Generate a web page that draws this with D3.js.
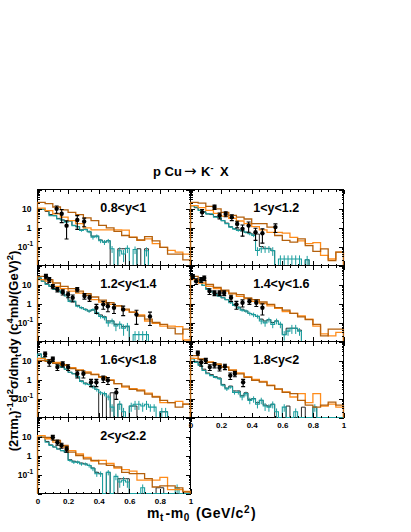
<!DOCTYPE html>
<html>
<head>
<meta charset="utf-8">
<script src="https://cdn.jsdelivr.net/npm/d3@7"></script>
<style>
body { margin: 0; background: #ffffff; }
svg text { font-family: "Liberation Sans", Arial, Helvetica, sans-serif; font-weight: bold; fill: #000; }
</style>
</head>
<body>
<svg id="chart" width="411" height="532"></svg>
<script>
// Rapidity bins, one panel each
var rapidityLabels = ["0.8<y<1", "1<y<1.2", "1.2<y<1.4", "1.4<y<1.6", "1.6<y<1.8", "1.8<y<2", "2<y<2.2"];
var xTickValues = [0, 0.2, 0.4, 0.6, 0.8, 1];
var xTickLabels = ["0", "0.2", "0.4", "0.6", "0.8", "1"];

// Model curves, 20 bins of 0.05 GeV/c^2 (dark orange / light orange)
var darkOr1 = [21, 18, 12, 8.5, 6.3, 4.8, 3.2, 2.3, 1.3, 0.95, 0.63, 0.38, 0.3, 0.22, 0.33, 0.2, 0.09, 0.04, 0.04, 0.02];
var ltOr1 = [10.5, 7.8, 5.3, 3.5, 2.3, 1.6, 0.95, 0.75, 0.75, 0.75, 0.75, 0.72, 0.31, 0.21, 0.25, 0.14, 0.09, 0.063, 0.05, 0.04];
var darkOr2 = [21, 19, 13, 9.5, 6.3, 4.3, 3.5, 2.8, 1.6, 1.6, 1.05, 0.38, 0.21, 0.17, 0.25, 0.11, 0.056, 0.075, 0.018, 0.05];
var ltOr2 = [14, 11, 8, 5.5, 4, 3, 2.2, 1.6, 1.1, 0.75, 0.56, 0.56, 0.5, 0.3, 0.2, 0.14, 0.16, 0.034, 0.022, 0.05];
var darkOr3 = [27, 18, 12, 8, 6, 4.5, 3.3, 2.2, 1.5, 1.1, 0.75, 0.5, 0.35, 0.22, 0.15, 0.1, 0.08, 0.05, 0.025, 0.045];
var ltOr3 = [18, 15, 8, 6, 4.5, 3.5, 2.7, 1.6, 1.2, 0.9, 0.75, 0.45, 0.35, 0.25, 0.12, 0.09, 0.065, 0.065, 0.06, 0.012];
var darkOr4 = [27, 17, 10, 7, 5, 3.5, 2.9, 2, 1.6, 1.2, 0.9, 0.6, 0.45, 0.3, 0.2, 0.14, 0.08, 0.02, 0.045, 0.045];
var ltOr4 = [18, 12, 8, 6, 4.5, 3.2, 2.4, 1.8, 1.3, 1.0, 0.75, 0.55, 0.38, 0.3, 0.22, 0.15, 0.065, 0.025, 0.02, 0.03];
var darkOr5 = [10, 9, 7, 5.5, 3.8, 3, 2.2, 1.8, 1.4, 0.9, 0.6, 0.45, 0.3, 0.25, 0.17, 0.12, 0.08, 0.06, 0.035, 0.05];
var ltOr5 = [13, 11, 8, 6, 4.2, 3.2, 2.5, 1.9, 1.3, 0.95, 0.6, 0.4, 0.33, 0.28, 0.19, 0.13, 0.06, 0.06, 0.07, 0.05];
var darkOr6 = [18, 12, 8, 6.6, 4.5, 3, 2, 1.3, 0.9, 0.72, 0.48, 0.32, 0.21, 0.18, 0.08, 0.045, 0.035, 0.045, 0.065, 0.045];
var ltOr6 = [13, 11, 8.5, 6, 4.5, 3.2, 2.2, 1.4, 1.0, 0.8, 0.5, 0.3, 0.22, 0.12, 0.18, 0.06, 0.18, 0.04, 0.05, 0.035];
var darkOr7 = [9, 9, 6.2, 3.4, 1.5, 1, 0.67, 0.55, 0.36, 0.3, 0.25, 0.13, 0.11, 0.11, 0.06, 0.022, 0.025, 0.025, 0.02, 0.012];
var ltOr7 = [11, 7.6, 5, 2.8, 1.8, 1.2, 0.8, 0.5, 0.55, 0.38, 0.22, 0.18, 0.15, 0.05, 0.05, 0.05, 0.07, 0.016, 0.016, 0.013];

// Simulation, 40 bins of 0.025 GeV/c^2 (teal with errors, black)
var teal1 = [9.5, 9, 7.8, 4.2, 4.2, 2.8, 2.5, 1.9, 2.2, 1.26, 1.1, 0.7, 0.8, 0.6, 0.31, 0.35, 0.2, 0.17, 0.2, 0.076, 0, 0.06, 0.04, 0.08, 0, 0.07, 0, 0, 0.06, 0, 0, 0, 0, 0, 0, 0, 0, 0, 0, 0];
var tealErr1 = [0, 0, 0, 0, 0, 0, 0, 0, 0, 0, 0, 0.1, 0.1, 0.1, 0.08, 0.08, 0.05, 0.05, 0.05, 0.03, 0, 0.03, 0.025, 0.035, 0, 0.03, 0, 0, 0.03, 0, 0, 0, 0, 0, 0, 0, 0, 0, 0, 0];
var black1 = [10, 9, 7, 4.8, 4.2, 3, 2.5, 2.1, 2.2, 1.3, 1.1, 0.75, 0.8, 0.6, 0.35, 0.35, 0.22, 0.17, 0.2, 0, 0, 0.076, 0.076, 0, 0, 0, 0.076, 0, 0.076, 0, 0, 0, 0, 0, 0, 0, 0, 0, 0, 0];
var teal2 = [14, 12, 8, 6.3, 5.2, 5.2, 3.5, 3.5, 2.3, 1.6, 1.05, 0.85, 0.7, 0.7, 0.56, 0.47, 0.38, 0.062, 0.076, 0.076, 0.076, 0.062, 0, 0.022, 0.022, 0.022, 0.022, 0.022, 0.022, 0, 0.02, 0, 0, 0, 0, 0, 0, 0, 0, 0];
var tealErr2 = [0, 0, 0, 0, 0, 0, 0, 0, 0, 0, 0.1, 0.1, 0.1, 0.1, 0.08, 0.08, 0.07, 0.03, 0.03, 0.03, 0.03, 0.03, 0, 0.012, 0.012, 0.012, 0.012, 0.012, 0.012, 0, 0.012, 0, 0, 0, 0, 0, 0, 0, 0, 0];
var black2 = [14, 11, 8, 6.8, 5.2, 4.8, 3.8, 3.2, 2.3, 1.7, 1.1, 0.85, 0.75, 0.65, 0.56, 0.5, 0.45, 0.45, 0.1, 0.08, 0.08, 0.06, 0, 0, 0, 0, 0, 0, 0, 0, 0.02, 0, 0, 0, 0, 0, 0, 0, 0, 0];
var teal3 = [22, 15, 10, 8, 5.5, 4.5, 3.6, 2.5, 1.3, 1.3, 0.72, 0.6, 0.48, 0.4, 0.48, 0.32, 0.21, 0.18, 0.095, 0.12, 0.065, 0.08, 0.05, 0.065, 0, 0.023, 0.023, 0.023, 0.023, 0, 0, 0, 0, 0, 0, 0, 0, 0, 0, 0];
var tealErr3 = [0, 0, 0, 0, 0, 0, 0, 0, 0.15, 0.15, 0.1, 0.1, 0.08, 0.08, 0.08, 0.07, 0.05, 0.05, 0.035, 0.04, 0.03, 0.035, 0.03, 0.03, 0, 0.012, 0.012, 0.012, 0.012, 0, 0, 0, 0, 0, 0, 0, 0, 0, 0, 0];
var black3 = [22, 15, 11, 8, 6, 4.5, 3.6, 2.8, 1.5, 1.3, 0.8, 0.6, 0.5, 0.4, 0.45, 0.32, 0.25, 0.2, 0.12, 0.12, 0.08, 0.08, 0.06, 0.06, 0, 0, 0, 0, 0, 0, 0, 0, 0, 0, 0, 0, 0, 0, 0, 0];
var teal4 = [27, 18, 14, 9, 5.5, 4, 3, 2.4, 2, 1.6, 1.1, 0.8, 0.6, 0.45, 0.4, 0.3, 0.26, 0.21, 0.12, 0.095, 0.14, 0.08, 0.12, 0.08, 0.023, 0.035, 0.05, 0.05, 0.035, 0, 0, 0, 0, 0, 0, 0, 0, 0, 0, 0];
var tealErr4 = [0, 0, 0, 0, 0, 0, 0, 0, 0, 0, 0.15, 0.1, 0.1, 0.08, 0.08, 0.07, 0.07, 0.05, 0.04, 0.035, 0.04, 0.03, 0.04, 0.03, 0.012, 0.015, 0.025, 0.025, 0.015, 0, 0, 0, 0, 0, 0, 0, 0, 0, 0, 0];
var black4 = [27, 18, 14, 9, 6, 4.5, 3.3, 2.6, 2, 1.6, 1.2, 0.9, 0.65, 0.5, 0.4, 0.3, 0.26, 0.21, 0.15, 0.12, 0.14, 0.1, 0.12, 0.08, 0.023, 0.05, 0.05, 0.05, 0.04, 0, 0, 0, 0, 0, 0, 0, 0, 0, 0, 0];
var teal5 = [22, 14, 10, 8, 7, 5.5, 4.5, 3.5, 2.4, 2, 1.4, 0.8, 0.6, 0.55, 0.4, 0.3, 0.2, 0.18, 0.12, 0.035, 0, 0.05, 0.02, 0, 0.04, 0.05, 0.05, 0.04, 0.05, 0.035, 0.035, 0, 0.02, 0.02, 0, 0, 0, 0, 0, 0];
var tealErr5 = [0, 0, 0, 0, 0, 0, 0, 0, 0, 0, 0.15, 0.1, 0.1, 0.08, 0.08, 0.07, 0.05, 0.05, 0.04, 0.015, 0, 0.025, 0.012, 0, 0.02, 0.025, 0.025, 0.02, 0.025, 0.015, 0.015, 0, 0.012, 0.012, 0, 0, 0, 0, 0, 0];
var black5 = [22, 14, 10, 8, 7, 5.5, 4.5, 3.5, 2.4, 2, 1.4, 0.85, 0.65, 0.55, 0.45, 0.3, 0, 0.18, 0, 0.2, 0, 0.05, 0, 0, 0.04, 0.04, 0, 0, 0, 0, 0, 0, 0.02, 0.02, 0, 0, 0, 0, 0, 0];
var teal6 = [12, 8, 5.5, 3, 2, 1.6, 1.3, 1.1, 0.5, 0.32, 0.4, 0.21, 0.21, 0.12, 0.18, 0.08, 0.095, 0.05, 0.08, 0.04, 0.035, 0.05, 0.02, 0, 0.035, 0, 0, 0.02, 0, 0, 0, 0, 0.035, 0, 0, 0, 0, 0, 0, 0];
var tealErr6 = [0, 0, 0, 0, 0, 0, 0.15, 0.15, 0.08, 0.07, 0.07, 0.05, 0.05, 0.04, 0.05, 0.03, 0.035, 0.02, 0.03, 0.018, 0.015, 0.02, 0.01, 0, 0.015, 0, 0, 0.01, 0, 0, 0, 0, 0.015, 0, 0, 0, 0, 0, 0, 0];
var black6 = [13, 9, 6, 3.5, 2.2, 1.8, 1.4, 1.2, 0.55, 0.35, 0.45, 0.25, 0.25, 0.14, 0.2, 0.09, 0.1, 0.06, 0.08, 0.045, 0.04, 0.05, 0, 0, 0, 0.04, 0, 0, 0, 0.035, 0, 0, 0.035, 0, 0, 0, 0, 0, 0, 0];
var teal7 = [11, 9, 5, 3.4, 2.8, 2.2, 1.8, 1.5, 0.55, 0.45, 0.45, 0.36, 0.36, 0.3, 0.2, 0.11, 0.11, 0, 0.13, 0, 0.08, 0.04, 0.05, 0.04, 0, 0, 0, 0.02, 0, 0, 0, 0, 0, 0, 0, 0, 0.02, 0, 0, 0];
var tealErr7 = [0, 0, 0, 0, 0, 0, 0, 0, 0.09, 0.09, 0.09, 0.07, 0.07, 0.07, 0.05, 0.035, 0.035, 0, 0.04, 0, 0.03, 0.02, 0.025, 0.02, 0, 0, 0, 0.01, 0, 0, 0, 0, 0, 0, 0, 0, 0.01, 0, 0, 0];
var black7 = [11, 9, 5.5, 3.6, 2.8, 2.2, 1.8, 1.5, 0.6, 0.5, 0.45, 0.4, 0.36, 0.3, 0.22, 0.13, 0.11, 0, 0.13, 0, 0, 0.06, 0.06, 0.06, 0, 0, 0, 0, 0, 0, 0, 0.02, 0.02, 0, 0, 0, 0, 0, 0, 0];

// Measured points: mt-m0, cross section, error
var ptX1 = [0.125, 0.158, 0.19, 0.26, 0.305];
var ptY1 = [9.6, 5.3, 1.25, 2.5, 2.1];
var ptE1 = [4, 3.5, 1.0, 1.7, 1.0];
var ptX2 = [0.076, 0.157, 0.19, 0.23, 0.27, 0.305, 0.34, 0.38, 0.425, 0.47, 0.555];
var ptY2 = [6.3, 12, 4.3, 5.2, 3.5, 1.55, 0.85, 1.26, 0.56, 0.5, 1.05];
var ptE2 = [2.5, 3, 1.5, 1.5, 1.2, 0.6, 0.5, 0.7, 0.35, 0.35, 0.5];
var ptX3 = [0.055, 0.077, 0.1, 0.13, 0.165, 0.2, 0.23, 0.26, 0.307, 0.34, 0.385, 0.43, 0.46, 0.5, 0.56, 0.647, 0.735];
var ptY3 = [27, 18, 8, 5.5, 4, 3, 2, 5.5, 2.5, 2, 0.6, 0.9, 0.72, 0.6, 0.48, 0.26, 0.21];
var ptE3 = [7, 5, 2, 1.5, 1.2, 1, 0.8, 1.5, 0.8, 0.7, 0.3, 0.4, 0.35, 0.3, 0.25, 0.18, 0.14];
var ptX4 = [0.015, 0.037, 0.07, 0.09, 0.124, 0.157, 0.19, 0.22, 0.265, 0.3, 0.34, 0.385, 0.43, 0.47];
var ptY4 = [27, 15, 18, 22, 4.5, 3.6, 3.6, 3.6, 2, 0.9, 1.1, 1.3, 1.1, 0.6];
var ptE4 = [6, 5, 5, 6, 1.5, 1, 1, 1, 0.7, 0.4, 0.45, 0.4, 0.4, 0.35];
var ptX5 = [0.05, 0.077, 0.1, 0.13, 0.165, 0.2, 0.26, 0.3, 0.35, 0.385, 0.43, 0.46, 0.515];
var ptY5 = [22, 8, 12, 4.5, 6.6, 4.5, 2, 2, 0.72, 0.72, 1.1, 0.9, 0.21];
var ptE5 = [6, 3, 3, 1.5, 2, 1.5, 0.8, 0.8, 0.3, 0.3, 0.4, 0.35, 0.12];
var ptX6 = [0.048, 0.07, 0.1, 0.126, 0.157, 0.19, 0.225, 0.26, 0.29, 0.344];
var ptY6 = [25, 8, 10, 4.5, 5.9, 4.1, 4.8, 1.6, 2, 0.72];
var ptE6 = [6, 3, 3, 1.5, 1.8, 1.3, 1.5, 0.6, 0.6, 0.3];
var ptX7 = [0.1, 0.13, 0.157, 0.19];
var ptY7 = [9, 5, 3.4, 2.2];
var ptE7 = [2.5, 1.5, 1, 0.7];

var panels = [
	{label: rapidityLabels[0], dark: darkOr1, light: ltOr1, teal: teal1, tealErr: tealErr1, black: black1, px: ptX1, py: ptY1, pe: ptE1},
	{label: rapidityLabels[1], dark: darkOr2, light: ltOr2, teal: teal2, tealErr: tealErr2, black: black2, px: ptX2, py: ptY2, pe: ptE2},
	{label: rapidityLabels[2], dark: darkOr3, light: ltOr3, teal: teal3, tealErr: tealErr3, black: black3, px: ptX3, py: ptY3, pe: ptE3},
	{label: rapidityLabels[3], dark: darkOr4, light: ltOr4, teal: teal4, tealErr: tealErr4, black: black4, px: ptX4, py: ptY4, pe: ptE4},
	{label: rapidityLabels[4], dark: darkOr5, light: ltOr5, teal: teal5, tealErr: tealErr5, black: black5, px: ptX5, py: ptY5, pe: ptE5},
	{label: rapidityLabels[5], dark: darkOr6, light: ltOr6, teal: teal6, tealErr: tealErr6, black: black6, px: ptX6, py: ptY6, pe: ptE6},
	{label: rapidityLabels[6], dark: darkOr7, light: ltOr7, teal: teal7, tealErr: tealErr7, black: black7, px: ptX7, py: ptY7, pe: ptE7}
];

var COL_LEFT = [37.5, 190.5];
var ROW_TOP = [189.5, 265.5, 341.5, 417.5];
var PANEL_W = 153, PANEL_H = 76;
var Y_MIN = 0.01, Y_MAX = 100;

var DARK_ORANGE = "#b4600c", LIGHT_ORANGE = "#ff8c1a", TEAL = "#1b9e9e", BLACK_HIST = "#262626";

var svg = d3.select("#chart");
svg.append("rect").attr("width", 411).attr("height", 532).attr("fill", "#ffffff");

var x = d3.scaleLinear().domain([0, 1]).range([0, PANEL_W]);
var y = d3.scaleLog().domain([Y_MIN, Y_MAX]).range([PANEL_H, 0]).clamp(true);

var histLine = d3.line()
	.x(function (d) { return x(d[0]); })
	.y(function (d) { return y(Math.max(d[1], Y_MIN)); });

// Outline of a histogram, closed down to the floor at both ends (ROOT "hist" look).
function stepPoints(values)
{
	var bw = 1 / values.length;
	var pts = [[0, Y_MIN]];
	values.forEach(function (v, i)
	{
		pts.push([i * bw, v]);
		pts.push([(i + 1) * bw, v]);
	});
	pts.push([1, Y_MIN]);
	return pts;
}

var xMajor = [0, 0.2, 0.4, 0.6, 0.8, 1];
var xMinor = d3.range(0, 21).map(function (i) { return i * 0.05; });
var yMajor = [0.01, 0.1, 1, 10, 100];
var yMinor = [];
[0.01, 0.1, 1, 10].forEach(function (dec)
{
	for (var k = 2; k <= 9; k++) { yMinor.push(dec * k); }
});

function tickAxis(g, axis, values, size)
{
	g.call(axis.tickValues(values).tickSize(size).tickFormat(""));
	g.select(".domain").remove();
	g.selectAll(".tick line").attr("stroke", "#000").attr("stroke-width", 1).attr("shape-rendering", "crispEdges");
}

function drawTicks(g)
{
	var specs = [
		[d3.axisBottom, x, "translate(0," + PANEL_H + ")", xMajor, xMinor],
		[d3.axisTop, x, "translate(0,0)", xMajor, xMinor],
		[d3.axisLeft, y, "translate(0,0)", yMajor, yMinor],
		[d3.axisRight, y, "translate(" + PANEL_W + ",0)", yMajor, yMinor]
	];
	specs.forEach(function (s)
	{
		tickAxis(g.append("g").attr("transform", s[2]), s[0](s[1]), s[4], -2);
		tickAxis(g.append("g").attr("transform", s[2]), s[0](s[1]), s[3], -4.5);
	});
}

panels.forEach(function (p, i)
{
	var col = i % 2, row = Math.floor(i / 2);
	var g = svg.append("g").attr("transform", "translate(" + COL_LEFT[col] + "," + ROW_TOP[row] + ")");

	var clipId = "clip" + i;
	svg.append("clipPath").attr("id", clipId)
		.append("rect").attr("x", -1).attr("y", -1).attr("width", PANEL_W + 2).attr("height", PANEL_H + 2);

	// Frame first, histograms over it, as ROOT does.
	g.append("rect")
		.attr("width", PANEL_W).attr("height", PANEL_H)
		.attr("fill", "none").attr("stroke", "#000").attr("stroke-width", 1);

	var plot = g.append("g").attr("clip-path", "url(#" + clipId + ")");

	plot.append("path").attr("d", histLine(stepPoints(p.black)))
		.attr("fill", "none").attr("stroke", BLACK_HIST).attr("stroke-width", 1);

	plot.append("path").attr("d", histLine(stepPoints(p.teal)))
		.attr("fill", "none").attr("stroke", TEAL).attr("stroke-width", 1.1);

	var bw = 1 / p.teal.length;
	p.teal.forEach(function (v, k)
	{
		var e = p.tealErr[k];
		if (v <= 0 || e <= 0) { return; }
		plot.append("line")
			.attr("x1", x((k + 0.5) * bw)).attr("x2", x((k + 0.5) * bw))
			.attr("y1", y(Math.max(v - e, Y_MIN))).attr("y2", y(v + e))
			.attr("stroke", TEAL).attr("stroke-width", 1);
	});

	plot.append("path").attr("d", histLine(stepPoints(p.light)))
		.attr("fill", "none").attr("stroke", LIGHT_ORANGE).attr("stroke-width", 1.3);

	plot.append("path").attr("d", histLine(stepPoints(p.dark)))
		.attr("fill", "none").attr("stroke", DARK_ORANGE).attr("stroke-width", 1.3);

	// Data points with error bars and end caps.
	p.px.forEach(function (xv, k)
	{
		var yv = p.py[k], e = p.pe[k];
		var cx = x(xv), lo = y(Math.max(yv - e, Y_MIN)), hi = y(yv + e);
		plot.append("line").attr("x1", cx).attr("x2", cx).attr("y1", lo).attr("y2", hi)
			.attr("stroke", "#000").attr("stroke-width", 1.1);
		[lo, hi].forEach(function (yy)
		{
			plot.append("line").attr("x1", cx - 2).attr("x2", cx + 2).attr("y1", yy).attr("y2", yy)
				.attr("stroke", "#000").attr("stroke-width", 1.1);
		});
		plot.append("circle").attr("cx", cx).attr("cy", y(yv)).attr("r", 2.2).attr("fill", "#000");
	});

	drawTicks(g);

	g.append("text")
		.attr("x", PANEL_W * 0.41).attr("y", 22)
		.attr("font-size", 12.5)
		.text(p.label);

	// Y tick labels only on the left column.
	if (col === 0)
	{
		[10, 1].forEach(function (v)
		{
			g.append("text").attr("x", -6).attr("y", y(v) + 3)
				.attr("text-anchor", "end").attr("font-size", 8.5)
				.text(String(v));
		});
		var t = g.append("text").attr("x", -4.5).attr("y", y(0.1) + 3)
			.attr("text-anchor", "end").attr("font-size", 8.5);
		t.append("tspan").text("10");
		t.append("tspan").attr("dy", -4).attr("font-size", 6.5).text("-1");
	}

	// X tick labels under the lowest panel of each column.
	if ((col === 0 && row === 3) || (col === 1 && row === 2))
	{
		var xa = g.append("g").attr("transform", "translate(0," + PANEL_H + ")")
			.call(d3.axisBottom(x).tickValues(xTickValues).tickSize(0).tickPadding(5)
				.tickFormat(function (d, k) { return xTickLabels[k]; }));
		xa.select(".domain").remove();
		xa.selectAll("text").attr("font-size", 8)
			.attr("font-family", "'Liberation Sans', Arial, sans-serif").attr("font-weight", "bold");
	}
});

// Title
var title = svg.append("text").attr("y", 176).attr("font-size", 13);
title.append("tspan").attr("x", 153).text("p Cu");
title.append("tspan").attr("x", 184).attr("font-size", 15)
	.attr("font-family", "'DejaVu Sans', sans-serif").attr("font-weight", "normal").text("\u2192");
title.append("tspan").attr("x", 201).text("K");
title.append("tspan").attr("dy", -5).attr("font-size", 9).text("-");
title.append("tspan").attr("x", 220).attr("dy", 5).text("X");

// X axis title
var xt = svg.append("text").attr("x", 147).attr("y", 518).attr("font-size", 14).attr("letter-spacing", 0.6);
xt.append("tspan").text("m");
xt.append("tspan").attr("dy", 3).attr("font-size", 10).text("t");
xt.append("tspan").attr("dy", -3).attr("dx", 1.5).text("-m");
xt.append("tspan").attr("dy", 3).attr("font-size", 10).text("0");
xt.append("tspan").attr("dy", -3).attr("dx", 1.5).text(" (GeV/c");
xt.append("tspan").attr("dy", -5).attr("font-size", 10).text("2");
xt.append("tspan").attr("dy", 5).attr("dx", 1).text(")");

// Y axis title, rotated
var yt = svg.append("text").attr("transform", "translate(18,351) rotate(-90)")
	.attr("text-anchor", "middle").attr("font-size", 13);
function part(txt, shift, small)
{
	var s = yt.append("tspan").attr("dy", shift).text(txt);
	if (small) { s.attr("font-size", 9.5); }
}
part("(2\u03c0m", 0, false);
part("t", 3, true);
part(")", -3, false);
part("-1", -5, true);
part("d", 5, false);
part("2", -5, true);
part("\u03c3/dm", 5, false);
part("t", 3, true);
part("dy (c", -3, false);
part("4", -5, true);
part("mb/(GeV)", 5, false);
part("2", -5, true);
part(")", 5, false);
</script>
</body>
</html>
